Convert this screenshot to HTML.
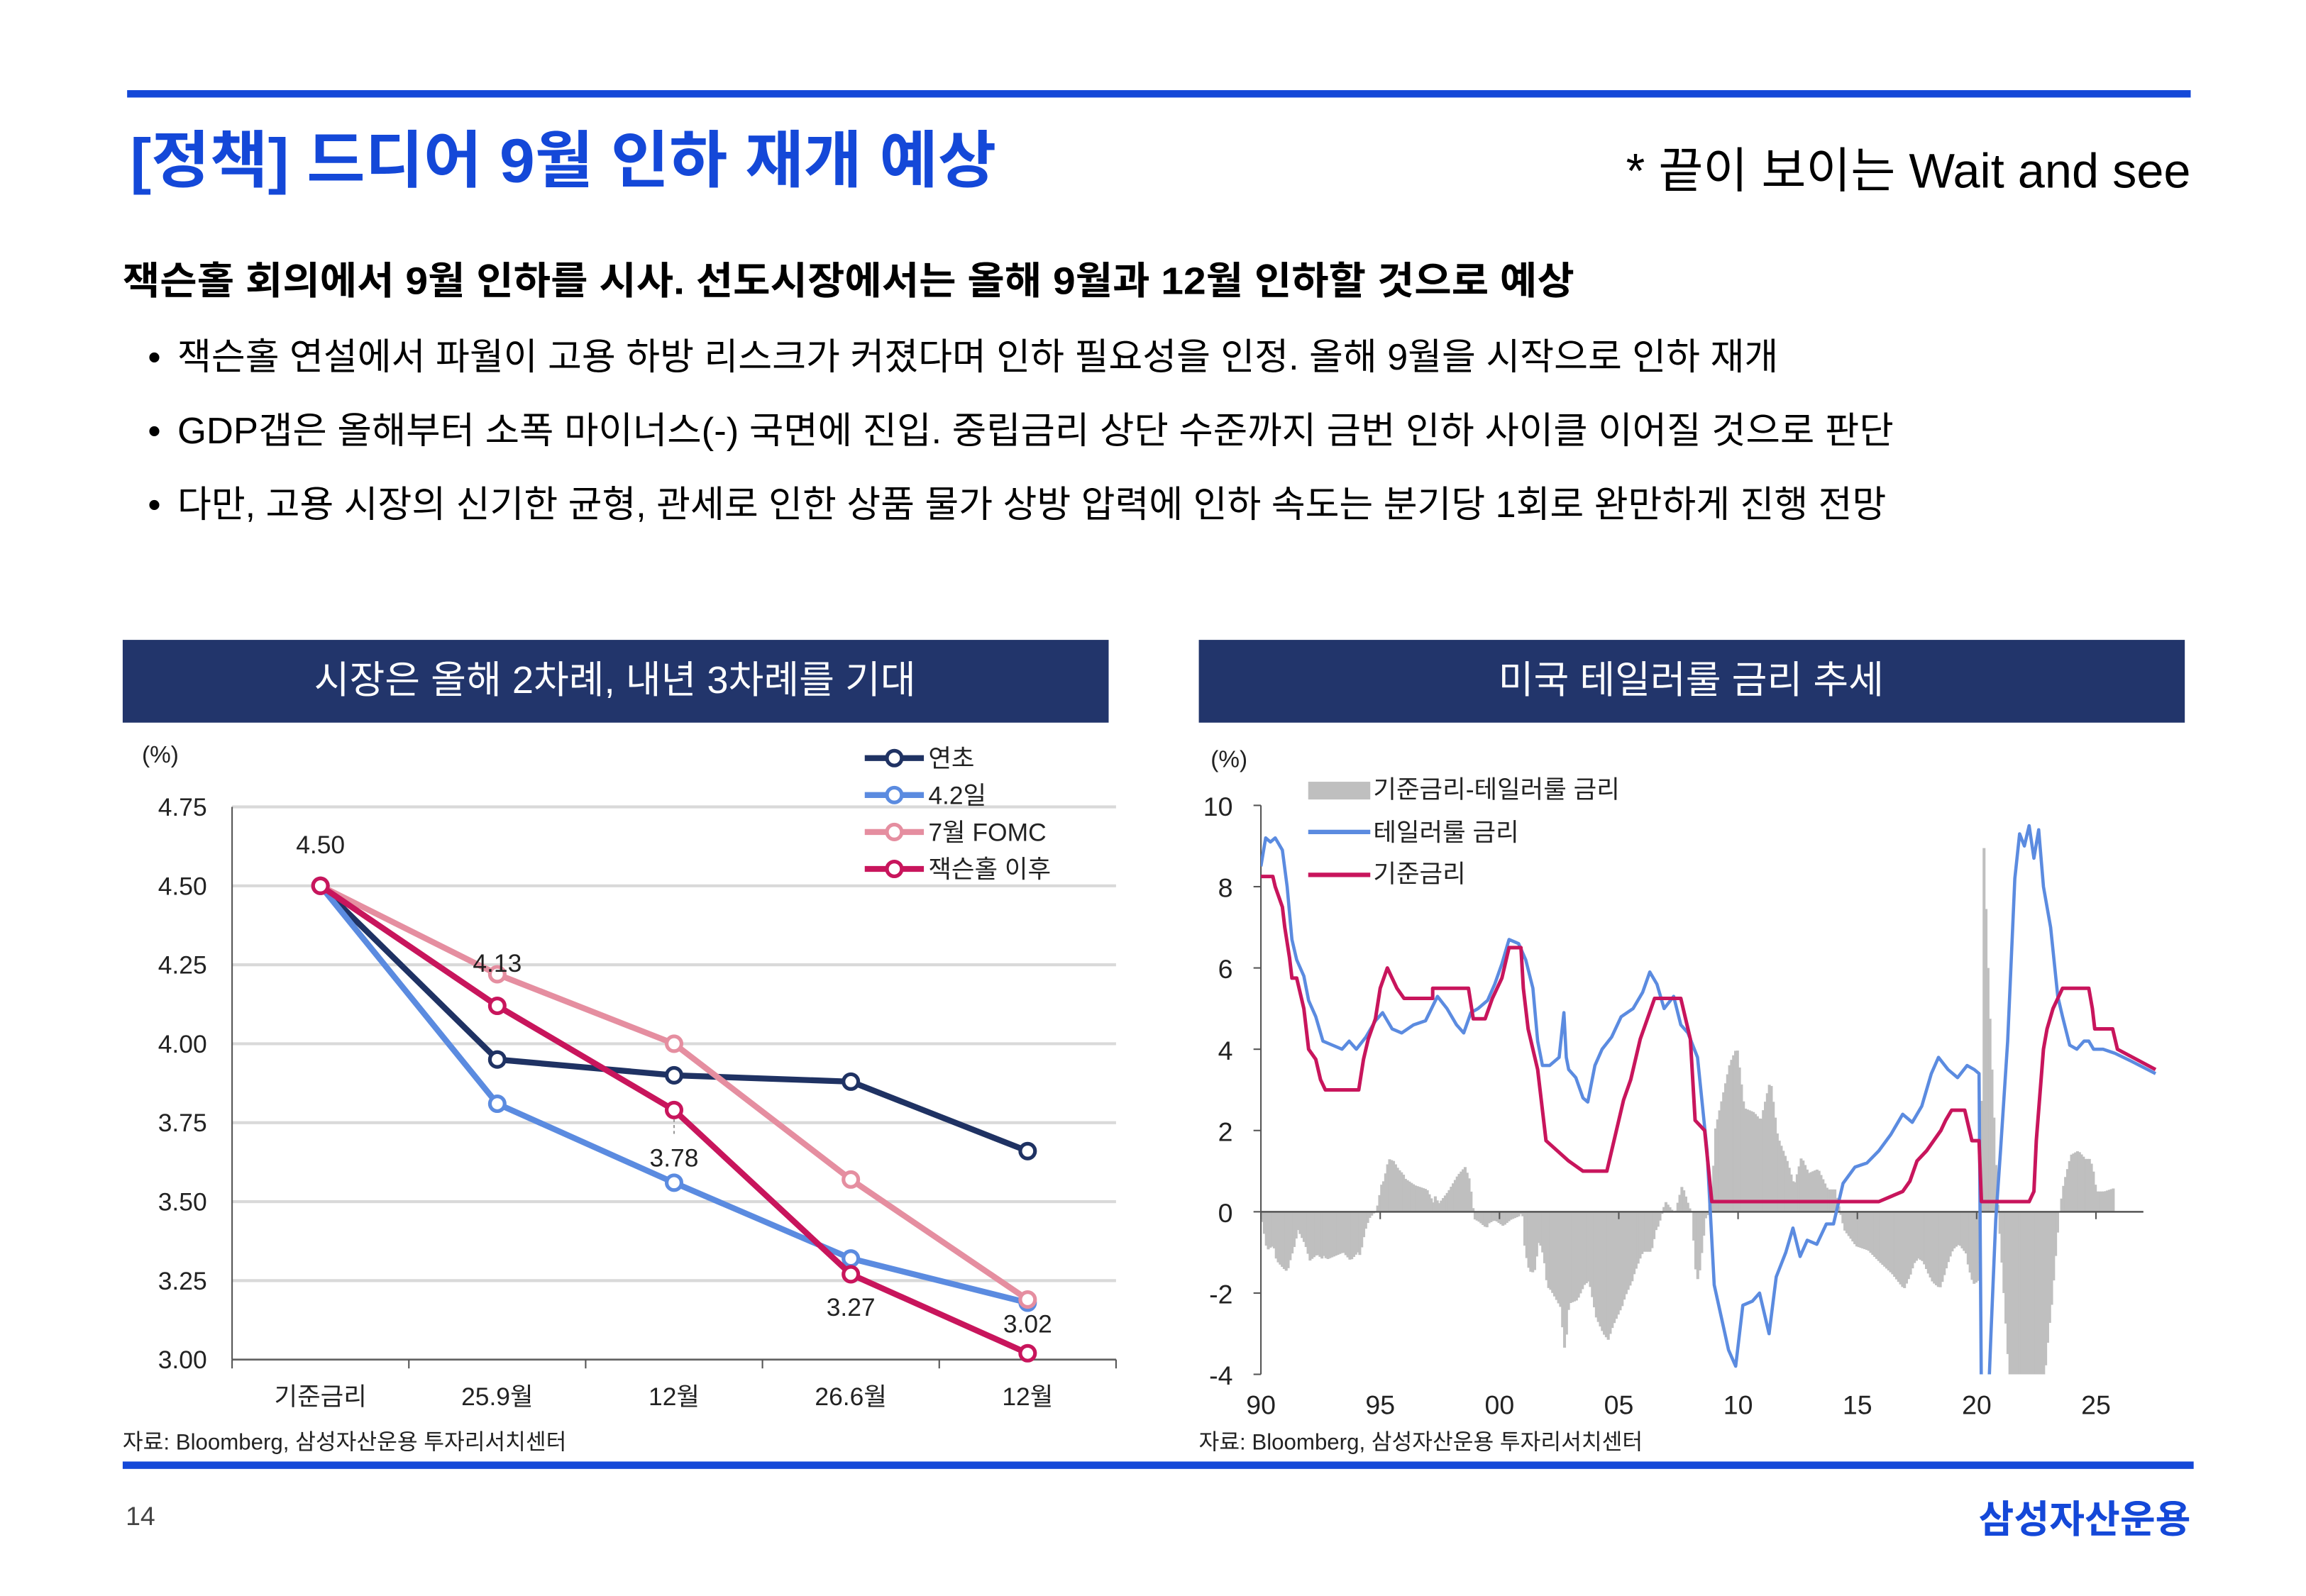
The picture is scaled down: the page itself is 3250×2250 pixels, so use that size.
<!DOCTYPE html>
<html><head><meta charset="utf-8">
<style>
html,body{margin:0;padding:0;background:#fff;}
svg{display:block;}
text{font-family:"Liberation Sans","Noto Sans CJK KR",sans-serif;}
</style></head>
<body>
<svg id="page" width="3250" height="2250" viewBox="0 0 1560 1080" xmlns="http://www.w3.org/2000/svg">
<rect x="0" y="0" width="1560" height="1080" fill="#fff"/>
<rect x="86" y="61" width="1396" height="5" fill="#1448d8"/>
<text x="88" y="123" font-size="42" font-weight="bold" fill="#1448d8" textLength="586" lengthAdjust="spacingAndGlyphs">[정책] 드디어 9월 인하 재개 예상</text>
<text x="1482" y="127" font-size="33" text-anchor="end" fill="#000" textLength="382" lengthAdjust="spacingAndGlyphs">* 끝이 보이는 Wait and see</text>
<text x="83" y="199" font-size="26" font-weight="bold" fill="#000" textLength="982" lengthAdjust="spacingAndGlyphs">잭슨홀 회의에서 9월 인하를 시사. 선도시장에서는 올해  9월과 12월 인하할 것으로 예상</text>
<text x="100" y="250" font-size="25" fill="#000">•</text>
<text x="120" y="250" font-size="25" fill="#000" textLength="1083" lengthAdjust="spacingAndGlyphs">잭슨홀 연설에서 파월이 고용 하방 리스크가 커졌다며 인하 필요성을 인정. 올해 9월을 시작으로 인하 재개</text>
<text x="100" y="300" font-size="25" fill="#000">•</text>
<text x="120" y="300" font-size="25" fill="#000" textLength="1161" lengthAdjust="spacingAndGlyphs">GDP갭은 올해부터 소폭 마이너스(-) 국면에 진입. 중립금리 상단 수준까지 금번 인하 사이클 이어질 것으로 판단</text>
<text x="100" y="350" font-size="25" fill="#000">•</text>
<text x="120" y="350" font-size="25" fill="#000" textLength="1156" lengthAdjust="spacingAndGlyphs">다만, 고용 시장의 신기한 균형, 관세로 인한 상품 물가 상방 압력에 인하 속도는 분기당 1회로 완만하게 진행 전망</text>

<rect x="83" y="433" width="667" height="56" fill="#22356b"/>
<text x="416" y="469" font-size="26" fill="#fff" text-anchor="middle">시장은 올해 2차례, 내년 3차례를 기대</text>
<rect x="811" y="433" width="667" height="56" fill="#22356b"/>
<text x="1144" y="469" font-size="26" fill="#fff" text-anchor="middle">미국 테일러룰 금리 추세</text>

<g id="left"></g>
<g id="right"></g>

<text x="83" y="981" font-size="15" fill="#222">자료: Bloomberg, 삼성자산운용 투자리서치센터</text>
<text x="811" y="981" font-size="15" fill="#222">자료: Bloomberg, 삼성자산운용 투자리서치센터</text>
<rect x="83" y="989" width="1401" height="5" fill="#1448d8"/>
<text x="85" y="1032" font-size="18" fill="#444">14</text>
<text x="1482" y="1037" font-size="26" font-weight="bold" fill="#1448d8" text-anchor="end">삼성자산운용</text>
</svg>
<script>
// ---------- Left chart data ----------
const catLabels = ["기준금리","25.9월","12월","26.6월","12월"];
const seriesNames = ["연초","4.2일","7월 FOMC","잭슨홀 이후"];
const sYeoncho = [4.50,3.95,3.90,3.88,3.66];
const sApr2 = [4.50,3.81,3.56,3.32,3.18];
const sJulFomc = [4.50,4.22,4.00,3.57,3.19];
const sJackson = [4.50,4.12,3.79,3.27,3.02];
const leftTicks = [3.00,3.25,3.50,3.75,4.00,4.25,4.50,4.75];
const annoValues = [4.50,4.13,3.78,3.27,3.02];

// ---------- Right chart data ----------
const ticksRightY = [-4,-2,0,2,4,6,8,10];
const ticksRightX = [1990,1995,2000,2005,2010,2015,2020,2025];
const ticksRightXLabels = ["90","95","00","05","10","15","20","25"];
const fedYears = [1990,1990.5,1990.6,1990.9,1991.0,1991.2,1991.3,1991.5,1991.8,1992.0,1992.3,1992.5,1992.7,1994.1,1994.3,1994.5,1994.8,1995.0,1995.3,1995.5,1995.7,1996.0,1997.2,1997.2,1998.7,1998.9,1999.4,1999.7,1999.9,2000.1,2000.4,2000.9,2001.0,2001.2,2001.4,2001.6,2001.8,2001.95,2002.9,2003.5,2004.5,2004.8,2005.2,2005.5,2005.9,2006.2,2006.5,2007.6,2007.8,2008.0,2008.2,2008.6,2008.9,2015.9,2016.9,2017.2,2017.5,2017.9,2018.2,2018.5,2018.7,2018.95,2019.5,2019.7,2019.8,2020.1,2020.2,2022.2,2022.4,2022.5,2022.7,2022.8,2022.95,2023.2,2023.4,2023.6,2024.7,2024.85,2024.95,2025.7,2025.9,2027.5];
const fedRate = [8.25,8.25,8.0,7.5,7.0,6.25,5.75,5.75,5.0,4.0,3.75,3.25,3.0,3.0,3.75,4.25,4.75,5.5,6.0,5.75,5.5,5.25,5.25,5.5,5.5,4.75,4.75,5.25,5.5,5.75,6.5,6.5,5.5,4.5,4.0,3.5,2.5,1.75,1.25,1.0,1.0,1.75,2.75,3.25,4.25,4.75,5.25,5.25,4.75,4.25,2.25,2.0,0.25,0.25,0.5,0.75,1.25,1.5,1.75,2.0,2.25,2.5,2.5,2.0,1.75,1.75,0.25,0.25,0.5,1.75,3.25,4.0,4.5,5.0,5.25,5.5,5.5,5.0,4.5,4.5,4.0,3.5];
const taylorYears = [1990,1990.2,1990.4,1990.6,1990.9,1991.1,1991.3,1991.5,1991.8,1992.0,1992.3,1992.6,1993.0,1993.4,1993.7,1994.0,1994.4,1994.8,1995.1,1995.5,1995.9,1996.4,1996.9,1997.4,1997.8,1998.2,1998.5,1998.8,1999.1,1999.5,1999.8,2000.1,2000.4,2000.8,2001.1,2001.4,2001.6,2001.8,2002.1,2002.5,2002.7,2002.8,2002.9,2003.2,2003.5,2003.7,2004.0,2004.3,2004.7,2005.1,2005.6,2006.0,2006.3,2006.6,2006.9,2007.3,2007.6,2007.9,2008.3,2008.7,2009.0,2009.3,2009.6,2009.9,2010.2,2010.6,2010.9,2011.3,2011.6,2012.0,2012.3,2012.6,2012.9,2013.3,2013.7,2014.0,2014.4,2014.9,2015.4,2015.9,2016.4,2016.9,2017.3,2017.7,2018.1,2018.4,2018.8,2019.2,2019.6,2019.9,2020.1,2020.25,2020.4,2020.6,2020.8,2021.0,2021.3,2021.6,2021.8,2022.0,2022.2,2022.4,2022.6,2022.8,2023.1,2023.4,2023.6,2023.9,2024.2,2024.5,2024.7,2024.9,2025.3,2025.8,2026.5,2027.5];
const taylorRate = [8.5,9.2,9.1,9.2,8.9,8.0,6.7,6.2,5.8,5.2,4.8,4.2,4.1,4.0,4.2,4.0,4.3,4.7,4.9,4.5,4.4,4.6,4.7,5.3,5.0,4.6,4.4,4.9,5.0,5.2,5.6,6.1,6.7,6.6,6.2,5.5,4.2,3.6,3.6,3.8,4.9,3.8,3.5,3.3,2.8,2.7,3.6,4.0,4.3,4.8,5.0,5.4,5.9,5.6,5.0,5.3,4.6,4.4,3.8,1.5,-1.8,-2.6,-3.4,-3.8,-2.3,-2.2,-2.0,-3.0,-1.6,-1.0,-0.4,-1.1,-0.7,-0.8,-0.3,-0.3,0.7,1.1,1.2,1.5,1.9,2.4,2.2,2.6,3.4,3.8,3.5,3.3,3.6,3.5,3.4,-8.7,-6.0,-3.0,-0.2,1.5,4.2,8.2,9.3,9.0,9.5,8.7,9.4,8.0,7.0,5.3,4.8,4.1,4.0,4.2,4.2,4.0,4.0,3.9,3.7,3.4];

const NS="http://www.w3.org/2000/svg";
function mk(parent,tag,attrs,txt){const e=document.createElementNS(NS,tag);for(const k in attrs)e.setAttribute(k,attrs[k]);if(txt!==undefined)e.textContent=txt;parent.appendChild(e);return e;}

// ---------- Left chart ----------
(function(){
 const g=document.getElementById('left');
 const x0=157,x1=755,yTop=546,yBot=920,vMin=3.0,vMax=4.75;
 const yS=v=>yBot-(v-vMin)/(vMax-vMin)*(yBot-yTop);
 const band=(x1-x0)/catLabels.length;
 const xS=i=>x0+band*(i+0.5);
 leftTicks.forEach(t=>{
  const l=mk(g,'line',{x1:x0,x2:x1,y1:yS(t),y2:yS(t),stroke:'#d9d9d9','stroke-width':2});
  
  
  const tx=mk(g,'text',{x:140,y:yS(t)+6,'font-size':17,'text-anchor':'end',fill:'#222'},t.toFixed(2));
  
  
 });
 const ax=mk(g,'line',{x1:x0,x2:x0,y1:yTop,y2:yBot,stroke:'#555','stroke-width':1});
 
 
 const bx=mk(g,'line',{x1:x0,x2:x1,y1:yBot,y2:yBot,stroke:'#555','stroke-width':1});
 
 
 for(let i=0;i<=catLabels.length;i++){const tk=mk(g,'line',{x1:x0+band*i,x2:x0+band*i,y1:yBot,y2:yBot+6,stroke:'#555'});
  
  }
 catLabels.forEach((c,i)=>{const t=mk(g,'text',{x:xS(i),y:951,'font-size':17,'text-anchor':'middle',fill:'#222'},c);
  
  });
 const ul=mk(g,'text',{x:96,y:516,'font-size':16,fill:'#222'},'(%)');
 
 
 const cols=['#1f3263','#5b8be0','#e58ea0','#c8155c'];
 const data=[sYeoncho,sApr2,sJulFomc,sJackson];
 const keys=['series-yeoncho','series-apr2','series-jul-fomc','series-jackson-hole'];
 data.forEach((s,k)=>{
  const pts=s.map((v,i)=>xS(i)+','+yS(v)).join(' ');
  const pl=mk(g,'polyline',{points:pts,fill:'none',stroke:cols[k],'stroke-width':4,'stroke-linejoin':'round'});
  
  
  s.forEach((v,i)=>{const c=mk(g,'circle',{cx:xS(i),cy:yS(v),r:5,fill:'#fff',stroke:cols[k],'stroke-width':2.5});
   
   });
 });
 // annotation labels
 const annoPos=[[0,-22],[1,-21],[2,36],[3,28],[4,-14]];
 annoValues.forEach((v,i)=>{const t=mk(g,'text',{x:xS(i)-(i==0?0:0),y:yS(v)+annoPos[i][1],'font-size':17,'text-anchor':'middle',fill:'#222'},v.toFixed(2));
  
  });
 const dl=mk(g,'line',{x1:xS(2),x2:xS(2),y1:yS(3.78)+4,y2:yS(3.78)+14,stroke:'#999','stroke-dasharray':'2,2'});
 
 
 // legend
 seriesNames.forEach((n,k)=>{const y=513+k*25;
  const l=mk(g,'line',{x1:585,x2:625,y1:y,y2:y,stroke:cols[k],'stroke-width':4});
  
  
  const c=mk(g,'circle',{cx:605,cy:y,r:5,fill:'#fff',stroke:cols[k],'stroke-width':2.5});
  
  
  const t=mk(g,'text',{x:628,y:y+6,'font-size':17,fill:'#222'},n);
  
  });
})();

// ---------- Right chart ----------
(function(){
 const g=document.getElementById('right');
 const x0=853,yTop=545,yBot=930,vMin=-4,vMax=10;
 const pxYr=16.14;
 const xS=yr=>x0+(yr-1990)*pxYr;
 const yS=v=>yBot-(v-vMin)/(vMax-vMin)*(yBot-yTop);
 const defs=mk(g,'defs',{});
 const cp=mk(defs,'clipPath',{id:'rclip'});
 mk(cp,'rect',{x:x0,y:yTop-20,width:620,height:yBot-yTop+20});
 function interp(xs,ys,x){if(x<=xs[0])return ys[0];for(let i=1;i<xs.length;i++){if(x<=xs[i]){const t=(x-xs[i-1])/(xs[i]-xs[i-1]);return ys[i-1]+t*(ys[i]-ys[i-1]);}}return ys[ys.length-1];}
 // gap bars
 const bars=mk(g,'g',{'clip-path':'url(#rclip)'});
 
 
 for(let yr=1990;yr<=2025.7;yr+=1/12){
  const gap=interp(fedYears,fedRate,yr)-interp(taylorYears,taylorRate,yr);
  const y0=yS(0),y1=yS(gap);
  const r=mk(bars,'rect',{x:xS(yr),y:Math.min(y0,y1),width:pxYr/12+0.6,height:Math.abs(y1-y0),fill:'#bfbfbf'});
  
  
 }
 // axes
 const ax=mk(g,'line',{x1:x0,x2:x0,y1:yTop,y2:yBot,stroke:'#555'});
 
 
 const zx=mk(g,'line',{x1:x0,x2:1450,y1:yS(0),y2:yS(0),stroke:'#555','stroke-width':1.2});
 
 
 ticksRightY.forEach(t=>{
  const tk=mk(g,'line',{x1:x0-5,x2:x0,y1:yS(t),y2:yS(t),stroke:'#555'});
  
  
  const tx=mk(g,'text',{x:834,y:yS(t)+7,'font-size':18,'text-anchor':'end',fill:'#222'},String(t));
  
  
 });
 ticksRightX.forEach((yr,i)=>{
  const tk=mk(g,'line',{x1:xS(yr),x2:xS(yr),y1:yS(0),y2:yS(0)+5,stroke:'#555'});
  
  
  const tx=mk(g,'text',{x:xS(yr),y:957,'font-size':18,'text-anchor':'middle',fill:'#222'},ticksRightXLabels[i]);
  
  
 });
 const ul=mk(g,'text',{x:819,y:519,'font-size':16,fill:'#222'},'(%)');
 
 
 const lines=mk(g,'g',{'clip-path':'url(#rclip)'});
 const tp=mk(lines,'polyline',{points:taylorYears.map((y,i)=>xS(y)+','+yS(taylorRate[i])).join(' '),fill:'none',stroke:'#5b8be0','stroke-width':2.2,'stroke-linejoin':'round'});
 
 
 const fp=mk(lines,'polyline',{points:fedYears.map((y,i)=>xS(y)+','+yS(fedRate[i])).join(' '),fill:'none',stroke:'#c8155c','stroke-width':2.4,'stroke-linejoin':'round'});
 
 
 // legend
 const lg1=mk(g,'rect',{x:885,y:529,width:42,height:12,fill:'#bfbfbf'});
 
 
 const lt1=mk(g,'text',{x:929,y:540,'font-size':17,fill:'#222'},'기준금리-테일러룰 금리');
 
 
 const lg2=mk(g,'line',{x1:885,x2:927,y1:563,y2:563,stroke:'#5b8be0','stroke-width':3});
 
 
 const lt2=mk(g,'text',{x:929,y:569,'font-size':17,fill:'#222'},'테일러룰 금리');
 
 
 const lg3=mk(g,'line',{x1:885,x2:927,y1:592,y2:592,stroke:'#c8155c','stroke-width':3});
 
 
 const lt3=mk(g,'text',{x:929,y:597,'font-size':17,fill:'#222'},'기준금리');
 
 
})();
</script>
</body></html>
